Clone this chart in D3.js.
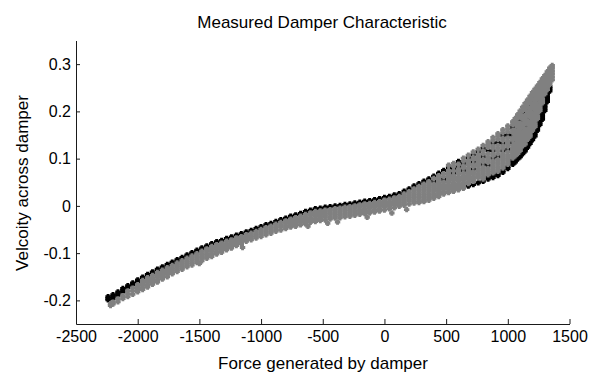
<!DOCTYPE html>
<html><head><meta charset="utf-8">
<script src="https://cdn.jsdelivr.net/npm/d3@7"></script>
<style>body{margin:0;background:#fff}svg{display:block}text{font-family:"Liberation Sans",Arial,Helvetica,sans-serif;fill:#000}</style>
</head><body><svg id="c" width="595" height="374"></svg>
<script>
const title = "Measured Damper Characteristic";
const xLabel = "Force generated by damper";
const yLabel = "Velcoity across damper";
const xTicks = [-2500,-2000,-1500,-1000,-500,0,500,1000,1500];
const yTicks = [-0.2,-0.1,0,0.1,0.2,0.3];

// each entry: [force, [velocities read at that force]]
const blackSeries = [
[-2240,[-0.192,-0.196,-0.199]],[-2200,[-0.188,-0.192,-0.196]],[-2160,[-0.182,-0.186,-0.189]],[-2120,[-0.175,-0.179,-0.182]],
[-2080,[-0.169,-0.173]],[-2040,[-0.163,-0.167]],[-2000,[-0.157,-0.161]],[-1960,[-0.151,-0.154]],[-1920,[-0.145,-0.148]],
[-1880,[-0.140,-0.143]],[-1840,[-0.134,-0.137]],[-1800,[-0.129,-0.132]],[-1760,[-0.124,-0.127]],[-1720,[-0.119,-0.122]],
[-1680,[-0.114,-0.117]],[-1640,[-0.109,-0.112]],[-1600,[-0.104,-0.107]],[-1560,[-0.099,-0.102]],[-1520,[-0.094,-0.097]],
[-1480,[-0.089,-0.092]],[-1440,[-0.085]],[-1400,[-0.080]],[-1360,[-0.076]],[-1320,[-0.073]],[-1280,[-0.069]],[-1240,[-0.066]],
[-1200,[-0.062]],[-1160,[-0.059]],[-1120,[-0.055]],[-1080,[-0.052]],[-1040,[-0.048]],[-1000,[-0.044]],[-960,[-0.040]],
[-920,[-0.037]],[-880,[-0.033]],[-840,[-0.029]],[-800,[-0.026]],[-760,[-0.022]],[-720,[-0.019]],[-680,[-0.016]],[-640,[-0.012]],
[-600,[-0.009]],[-560,[-0.006]],[-520,[-0.005]],[-480,[-0.003]],[-440,[-0.002]],[-400,[0.000]],[-360,[0.001]],[-320,[0.003]],
[-280,[0.004]],[-240,[0.006]],[-200,[0.008]],[-160,[0.010]],[-120,[0.011]],[-80,[0.013]],[-40,[0.015]],[0,[0.018]],[40,[0.020]],
[80,[0.023]],[120,[0.026]],[160,[0.031]],[200,[0.036]],[240,[0.042]],[280,[0.047]],[320,[0.052]],[360,[0.057]],
[400,[0.063,0.052]],[440,[0.069]],[480,[0.075,0.056]],[520,[0.081]],[560,[0.079,0.069]],[600,[0.094,0.083]],
[640,[0.090,0.075]],[680,[0.102,0.042]],[720,[0.108,0.093,0.078,0.045]],[760,[0.115,0.049]],
[800,[0.122,0.104,0.088,0.052]],[840,[0.117,0.086,0.057,0.061]],[880,[0.133,0.117,0.101,0.060,0.064]],
[920,[0.134,0.104,0.064,0.068]],[960,[0.149,0.133,0.117,0.071,0.075]],[1000,[0.150,0.120,0.079,0.083]],
[1040,[0.166,0.150,0.134,0.088,0.092,0.096]],[1060,[0.166,0.136,0.093,0.097,0.101]],
[1080,[0.180,0.163,0.146,0.099,0.103,0.107]],[1100,[0.181,0.151,0.104,0.108,0.112]],
[1120,[0.196,0.179,0.161,0.110,0.114,0.118,0.122]],[1140,[0.197,0.167,0.116,0.120,0.124]],
[1160,[0.204,0.186,0.169,0.124,0.128,0.132,0.136]],[1180,[0.212,0.182,0.132,0.136,0.140]],
[1200,[0.220,0.202,0.140,0.144,0.148,0.152,0.156]],[1220,[0.227,0.197,0.148,0.153,0.158,0.162]],
[1240,[0.220,0.160,0.165,0.170,0.175,0.180]],[1260,[0.172,0.177,0.182,0.187,0.192,0.197]],
[1280,[0.183,0.188,0.193,0.198,0.203,0.208,0.213]],[1300,[0.202,0.207,0.212,0.217,0.222,0.227,0.232]],
[1320,[0.221,0.226,0.231,0.236,0.241]],[1340,[0.243,0.248,0.252]]
];

const graySeries = [
[-2220,[-0.207,-0.211]],[-2200,[-0.204,-0.208]],[-2160,[-0.197,-0.203]],[-2120,[-0.190,-0.196]],[-2080,[-0.180,-0.186,-0.192]],
[-2040,[-0.174,-0.180,-0.187]],[-2000,[-0.167,-0.172,-0.177,-0.182]],[-1960,[-0.158,-0.163,-0.168,-0.173,-0.177]],
[-1920,[-0.152,-0.157,-0.162,-0.167,-0.172]],[-1880,[-0.147,-0.152,-0.157,-0.162,-0.166]],[-1840,[-0.141,-0.146,-0.151,-0.156,-0.161]],
[-1800,[-0.136,-0.141,-0.146,-0.151,-0.155]],[-1760,[-0.131,-0.136,-0.141,-0.145,-0.150]],[-1720,[-0.126,-0.131,-0.135,-0.140,-0.144]],
[-1680,[-0.121,-0.126,-0.130,-0.135,-0.139]],[-1640,[-0.116,-0.121,-0.125,-0.130,-0.134]],[-1600,[-0.111,-0.116,-0.120,-0.125,-0.129]],
[-1560,[-0.106,-0.111,-0.115,-0.120,-0.125]],[-1520,[-0.101,-0.106,-0.110,-0.115,-0.120]],[-1480,[-0.096,-0.101,-0.106,-0.111,-0.116]],
[-1440,[-0.091,-0.096,-0.101,-0.106,-0.111]],[-1400,[-0.086,-0.091,-0.096,-0.101,-0.107]],[-1360,[-0.082,-0.087,-0.092,-0.097,-0.102]],
[-1320,[-0.079,-0.084,-0.089,-0.093,-0.098]],[-1280,[-0.075,-0.080,-0.084,-0.089,-0.093]],[-1240,[-0.072,-0.077,-0.081,-0.085,-0.089]],
[-1200,[-0.068,-0.073,-0.077,-0.081,-0.084]],[-1160,[-0.065,-0.069,-0.073,-0.077,-0.080]],[-1120,[-0.061,-0.066,-0.070,-0.075]],
[-1080,[-0.058,-0.063,-0.067,-0.072]],[-1040,[-0.054,-0.059,-0.063,-0.068]],[-1000,[-0.050,-0.055,-0.060,-0.065]],
[-960,[-0.046,-0.051,-0.056,-0.061]],[-920,[-0.043,-0.048,-0.053,-0.058]],[-880,[-0.039,-0.044,-0.049,-0.054]],
[-840,[-0.035,-0.040,-0.045,-0.051]],[-800,[-0.032,-0.037,-0.042,-0.048]],[-760,[-0.028,-0.033,-0.038,-0.042,-0.045]],
[-720,[-0.025,-0.030,-0.035,-0.039,-0.043]],[-680,[-0.022,-0.027,-0.031,-0.035,-0.040]],[-640,[-0.018,-0.023,-0.028,-0.033,-0.038]],
[-600,[-0.015,-0.020,-0.025,-0.030,-0.035]],[-560,[-0.012,-0.017,-0.022,-0.027,-0.033]],[-520,[-0.011,-0.016,-0.021,-0.026,-0.031]],
[-480,[-0.009,-0.014,-0.019,-0.024,-0.030]],[-440,[-0.008,-0.013,-0.018,-0.023,-0.028]],[-400,[-0.006,-0.011,-0.016,-0.021,-0.026]],
[-360,[-0.005,-0.010,-0.015,-0.020,-0.025]],[-320,[-0.003,-0.008,-0.013,-0.018,-0.023]],[-280,[-0.002,-0.007,-0.012,-0.017,-0.022]],
[-240,[0.000,-0.005,-0.010,-0.015,-0.020]],[-200,[0.002,-0.003,-0.008,-0.013,-0.018]],[-160,[0.004,-0.001,-0.006,-0.011,-0.016]],
[-120,[0.005,0.000,-0.005,-0.010,-0.015]],[-80,[0.007,0.002,-0.003,-0.008,-0.013]],[-40,[0.009,0.004,-0.001,-0.006,-0.011]],
[0,[0.012,0.007,0.002,-0.003,-0.009]],[40,[0.014,0.009,0.004,-0.001,-0.006]],[80,[0.017,0.012,0.007,0.002,-0.004]],
[120,[0.020,0.015,0.010,0.005,-0.001]],[160,[0.025,0.020,0.015,0.010,0.005,0.001]],[200,[0.030,0.025,0.020,0.015,0.010,0.004]],
[240,[0.036,0.031,0.026,0.021,0.016,0.011,0.006]],[280,[0.041,0.036,0.031,0.026,0.021,0.016,0.011,0.007]],
[320,[0.046,0.041,0.036,0.031,0.026,0.021,0.016,0.011,0.009]],[360,[0.051,0.046,0.041,0.036,0.031,0.026,0.021,0.016,0.012]],
[400,[0.058,0.046,0.041,0.036,0.031,0.026,0.021,0.016]],[440,[0.064,0.059,0.054,0.049,0.044,0.039,0.034,0.029,0.024,0.020]],
[480,[0.068,0.062,0.050,0.045,0.040,0.035,0.030,0.025]],[520,[0.086,0.075,0.070,0.065,0.060,0.055,0.050,0.045,0.040,0.035,0.030,0.028]],
[560,[0.090,0.084,0.074,0.064,0.059,0.054,0.049,0.044,0.039,0.034,0.031]],[600,[0.088,0.078,0.073,0.068,0.062,0.057,0.052,0.047,0.042,0.037,0.034]],
[640,[0.101,0.095,0.084,0.080,0.069,0.064,0.059,0.054,0.049,0.044,0.039,0.037]],[680,[0.107,0.096,0.091,0.086,0.080,0.075,0.070,0.066,0.061,0.056,0.051,0.047]],
[720,[0.114,0.102,0.098,0.087,0.083,0.072,0.067,0.062,0.057,0.052]],[760,[0.120,0.109,0.104,0.098,0.092,0.089,0.084,0.078,0.073,0.068,0.063,0.059]],
[800,[0.128,0.116,0.110,0.098,0.093,0.082,0.077,0.072,0.067,0.062,0.057]],
[840,[0.136,0.130,0.124,0.110,0.104,0.098,0.092,0.080,0.075,0.070,0.066]],
[880,[0.145,0.139,0.127,0.122,0.111,0.106,0.095,0.090,0.085,0.080,0.075,0.070]],
[920,[0.153,0.147,0.141,0.128,0.122,0.116,0.110,0.098,0.093,0.088,0.083,0.078,0.073]],
[960,[0.161,0.155,0.143,0.138,0.127,0.122,0.111,0.106,0.101,0.096,0.090,0.085,0.080]],
[1000,[0.169,0.163,0.157,0.144,0.138,0.132,0.126,0.114,0.108,0.103,0.098,0.093,0.088]],
[1040,[0.178,0.172,0.160,0.155,0.144,0.139,0.128,0.122,0.116,0.111,0.106,0.101]],
[1060,[0.185,0.179,0.173,0.160,0.154,0.148,0.142,0.130,0.124,0.118,0.112,0.106]],
[1080,[0.193,0.186,0.174,0.168,0.157,0.151,0.140,0.134,0.128,0.122,0.116,0.111]],
[1100,[0.201,0.194,0.188,0.175,0.169,0.163,0.157,0.145,0.139,0.133,0.127,0.122,0.117]],
[1120,[0.209,0.202,0.190,0.184,0.173,0.167,0.155,0.149,0.143,0.137,0.131,0.127]],
[1140,[0.217,0.210,0.204,0.191,0.185,0.179,0.173,0.161,0.155,0.149,0.143,0.137,0.131]],
[1160,[0.224,0.217,0.210,0.198,0.192,0.180,0.174,0.163,0.157,0.151,0.145,0.141]],
[1180,[0.232,0.225,0.219,0.206,0.200,0.194,0.188,0.176,0.170,0.164,0.158,0.152,0.147]],
[1200,[0.240,0.233,0.226,0.214,0.208,0.196,0.190,0.182,0.176,0.170,0.165,0.160]],
[1220,[0.247,0.240,0.234,0.221,0.215,0.209,0.203,0.191,0.185,0.179,0.173,0.168]],
[1240,[0.254,0.247,0.240,0.233,0.226,0.214,0.208,0.202,0.196,0.190,0.185]],
[1260,[0.261,0.254,0.247,0.240,0.233,0.226,0.219,0.213,0.207,0.202]],
[1280,[0.269,0.262,0.255,0.248,0.241,0.234,0.227,0.222,0.218]],
[1300,[0.276,0.269,0.262,0.256,0.251,0.246,0.242,0.237]],[1320,[0.284,0.277,0.271,0.265,0.260,0.255,0.251,0.246]],
[1340,[0.292,0.285,0.279,0.273,0.267,0.262,0.257]],[1360,[0.297,0.291,0.285,0.279,0.273,0.267]],
[-620,[-0.043]],[-460,[-0.037]],[-380,[-0.034]],[-140,[-0.024]],[60,[-0.015]],[180,[-0.008]],[-1500,[-0.122]],[-1150,[-0.088]]
];

const svg = d3.select("#c");
const x = d3.scaleLinear().domain([-2500, 1500]).range([76, 569.5]);
const y = d3.scaleLinear().domain([-0.25, 0.35]).range([324, 40.5]);

const plus = {
  draw(ctx) {
    const a = 2.7, b = 1.45;
    ctx.moveTo(-b, -a); ctx.lineTo(b, -a); ctx.lineTo(b, -b); ctx.lineTo(a, -b);
    ctx.lineTo(a, b); ctx.lineTo(b, b); ctx.lineTo(b, a); ctx.lineTo(-b, a);
    ctx.lineTo(-b, b); ctx.lineTo(-a, b); ctx.lineTo(-a, -b); ctx.lineTo(-b, -b);
    ctx.closePath();
  }
};
const sym = d3.symbol().type(plus)();

function pts(series) { return series.flatMap(([f, vs]) => vs.map(v => [f, v])); }

const marks = svg.append("g");
[[blackSeries, "#000000"], [graySeries, "#808080"]].forEach(([s, col]) => {
  marks.append("g").selectAll("path").data(pts(s)).join("path")
    .attr("d", sym)
    .attr("transform", d => `translate(${x(d[0])},${y(d[1])})`)
    .attr("fill", col);
});

const axisColor = "#1a1a1a";
const fmtY = d => (d === 0 ? "0" : d3.format(".1f")(d)).replace("\u2212", "-");
const gx = svg.append("g").attr("transform", "translate(0,324)")
  .call(d3.axisBottom(x).tickValues(xTicks).tickSizeInner(-5).tickSizeOuter(0).tickPadding(7).tickFormat(d => String(d)));
const gy = svg.append("g").attr("transform", "translate(76,0)")
  .call(d3.axisLeft(y).tickValues(yTicks).tickSizeInner(-4).tickSizeOuter(0).tickPadding(5).tickFormat(fmtY));
[gx, gy].forEach(g => {
  g.attr("font-family", null).attr("font-size", null);
  g.selectAll("path,line").attr("stroke", axisColor);
  g.selectAll("text").attr("font-size", 16).attr("fill", "#000");
});

svg.append("text").attr("x", 322).attr("y", 27.5).attr("text-anchor", "middle")
  .attr("font-size", 17).text(title);
svg.append("text").attr("x", 323).attr("y", 369).attr("text-anchor", "middle")
  .attr("font-size", 17).text(xLabel);
svg.append("text").attr("transform", "translate(27.5,183) rotate(-90)").attr("text-anchor", "middle")
  .attr("font-size", 17).text(yLabel);
</script></body></html>
